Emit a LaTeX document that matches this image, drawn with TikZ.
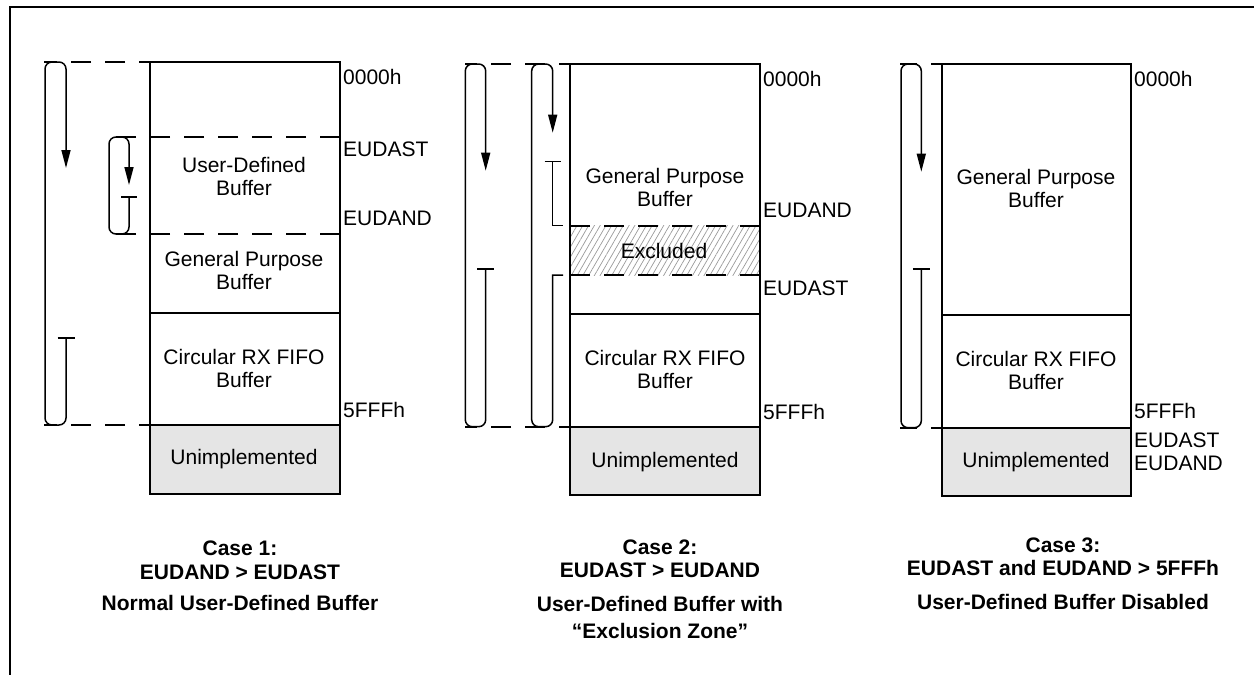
\documentclass[tikz,border=0pt]{standalone}
\usepackage{fontspec}
\setmainfont{Liberation Sans}
\usetikzlibrary{arrows.meta,positioning,patterns.meta}

\begin{document}
\begin{tikzpicture}[
    x=1pt, y=-1pt,
    edge/.style={line width=2pt},
    bound/.style={line width=2pt, dash pattern=on 20pt off 14pt},
    wrap/.style={line width=1.5pt, rounded corners=7pt},
    loopend/.style={arrows={Bar[width=17pt]-Triangle[length=18pt,width=9pt]}},
    ptr/.style={arrows={-Triangle[length=18pt,width=9pt]}},
    tee/.style={arrows={Bar[width=16pt]-}},
    region/.style={font=\fontsize{21}{23}\selectfont, align=center, inner sep=0pt},
    addr/.style={anchor=west, font=\fontsize{21}{23}\selectfont, inner sep=0pt},
    caption/.style={font=\fontsize{21}{23.5}\selectfont\bfseries, align=center, inner sep=0pt}
]
    \useasboundingbox (0,0) rectangle (1254,675);
    \draw[edge] (10,675) -- (10,7) -- (1254,7);

    % Case 1
    \fill[gray!20] (150,425) rectangle (340,494);
    \draw[bound, dash phase=9pt] (150,62) -- (44,62);
    \draw[bound, dash phase=9pt] (150,425) -- (44,425);
    \draw[bound] (340,137) -- (108,137);
    \draw[bound] (340,234) -- (108,234);
    \draw[edge] (150,62) rectangle (340,494);
    \draw[edge] (150,313) -- (340,313);
    \draw[edge] (150,425) -- (340,425);
    \draw[wrap, loopend] (66,337) -- (66,425) -- (45,425) -- (45,62) -- (66,62) -- (66,168);
    \draw[wrap, arrows={Bar[width=16pt]-Triangle[length=18pt,width=9pt]}] (129,196) -- (129,234) -- (109,234) -- (109,137) -- (129,137) -- (129,185);

    \node[region] (c1user) at (244,176.5) {User-Defined\\Buffer};
    \node[region] (c1gp) at (244,270.5) {General Purpose\\Buffer};
    \node[region] (c1fifo) at (244,368) {Circular RX FIFO\\Buffer};
    \node[region] (c1unimp) at (244,458.7) {Unimplemented};

    \node[addr] (c1start) at (343,77) {0000h};
    \node[addr] (c1st) at (343,149) {EUDAST};
    \node[addr] (c1nd) at (343,218) {EUDAND};
    \node[addr] (c1end) at (343,410) {5FFFh};

    % Case 2
    \fill[gray!20] (570,426.7) rectangle (760,495);
    \fill[pattern={Lines[angle=60,distance=5pt,line width=0.7pt]}, pattern color=gray!80] (570,225.7) rectangle (760,275);
    \draw[bound, dash phase=9pt] (570,64) -- (465,64);
    \draw[bound, dash phase=9pt] (570,426.7) -- (465,426.7);
    \draw[bound] (760,225.7) -- (570,225.7);
    \draw[bound] (760,275) -- (570,275);
    \draw[edge] (570,64) rectangle (760,495);
    \draw[edge] (570,314) -- (760,314);
    \draw[edge] (570,426.7) -- (760,426.7);
    \draw[wrap, loopend] (485.7,268.3) -- (485.7,426.7) -- (465.3,426.7) -- (465.3,64) -- (485.7,64) -- (485.7,170.7);
    \draw[line width=1.5pt, tee] (552.7,160.7) -- (552.7,225.7) -- (563,225.7);
    \draw[line width=1.5pt, ptr] (563,275) -- (552.7,275) -- (552.7,300) [rounded corners=7pt] -- (552.7,426.7) -- (531.7,426.7) -- (531.7,64) -- (552.7,64) -- (552.7,132.7);

    \node[region] (c2gp) at (665,187.5) {General Purpose\\Buffer};
    \node[region] (c2excl) at (664,251) {Excluded};
    \node[region] (c2fifo) at (665,369) {Circular RX FIFO\\Buffer};
    \node[region] (c2unimp) at (665,462) {Unimplemented};

    \node[addr] (c2start) at (763,79) {0000h};
    \node[addr] (c2nd) at (763,210) {EUDAND};
    \node[addr] (c2st) at (763,288) {EUDAST};
    \node[addr] (c2end) at (763,411.7) {5FFFh};

    % Case 3
    \fill[gray!20] (942,427.7) rectangle (1131,495.7);
    \draw[bound, dash phase=9pt] (942,64) -- (900,64);
    \draw[bound, dash phase=9pt] (942,427.7) -- (900,427.7);
    \draw[edge] (942,64) rectangle (1131,495.7);
    \draw[edge] (942,315) -- (1131,315);
    \draw[edge] (942,427.7) -- (1131,427.7);
    \draw[wrap, loopend] (921.3,268.3) -- (921.3,427.7) -- (901,427.7) -- (901,64) -- (921.3,64) -- (921.3,171.7);

    \node[region] (c3gp) at (1036,188) {General Purpose\\Buffer};
    \node[region] (c3fifo) at (1036,370) {Circular RX FIFO\\Buffer};
    \node[region] (c3unimp) at (1036,461.7) {Unimplemented};

    \node[addr] (c3start) at (1134,79) {0000h};
    \node[addr] (c3end) at (1134,411) {5FFFh};
    \node[addr] (c3st) at (1134,440.7) {EUDAST};
    \node[addr] (c3nd) at (1134,463) {EUDAND};

    % Captions
    \node[caption] (cap1) at (240,560.5) {Case 1:\\EUDAND > EUDAST};
    \node[caption, below=15pt of cap1] (sub1) {Normal User-Defined Buffer};
    \node[caption] (cap2) at (660,559) {Case 2:\\EUDAST > EUDAND};
    \node[caption, below=18pt of cap2] (sub2) {User-Defined Buffer with\\[3pt]“Exclusion Zone”};
    \node[caption] (cap3) at (1063,557) {Case 3:\\EUDAST and EUDAND > 5FFFh};
    \node[caption, below=18pt of cap3] (sub3) {User-Defined Buffer Disabled};
\end{tikzpicture}
\end{document}
